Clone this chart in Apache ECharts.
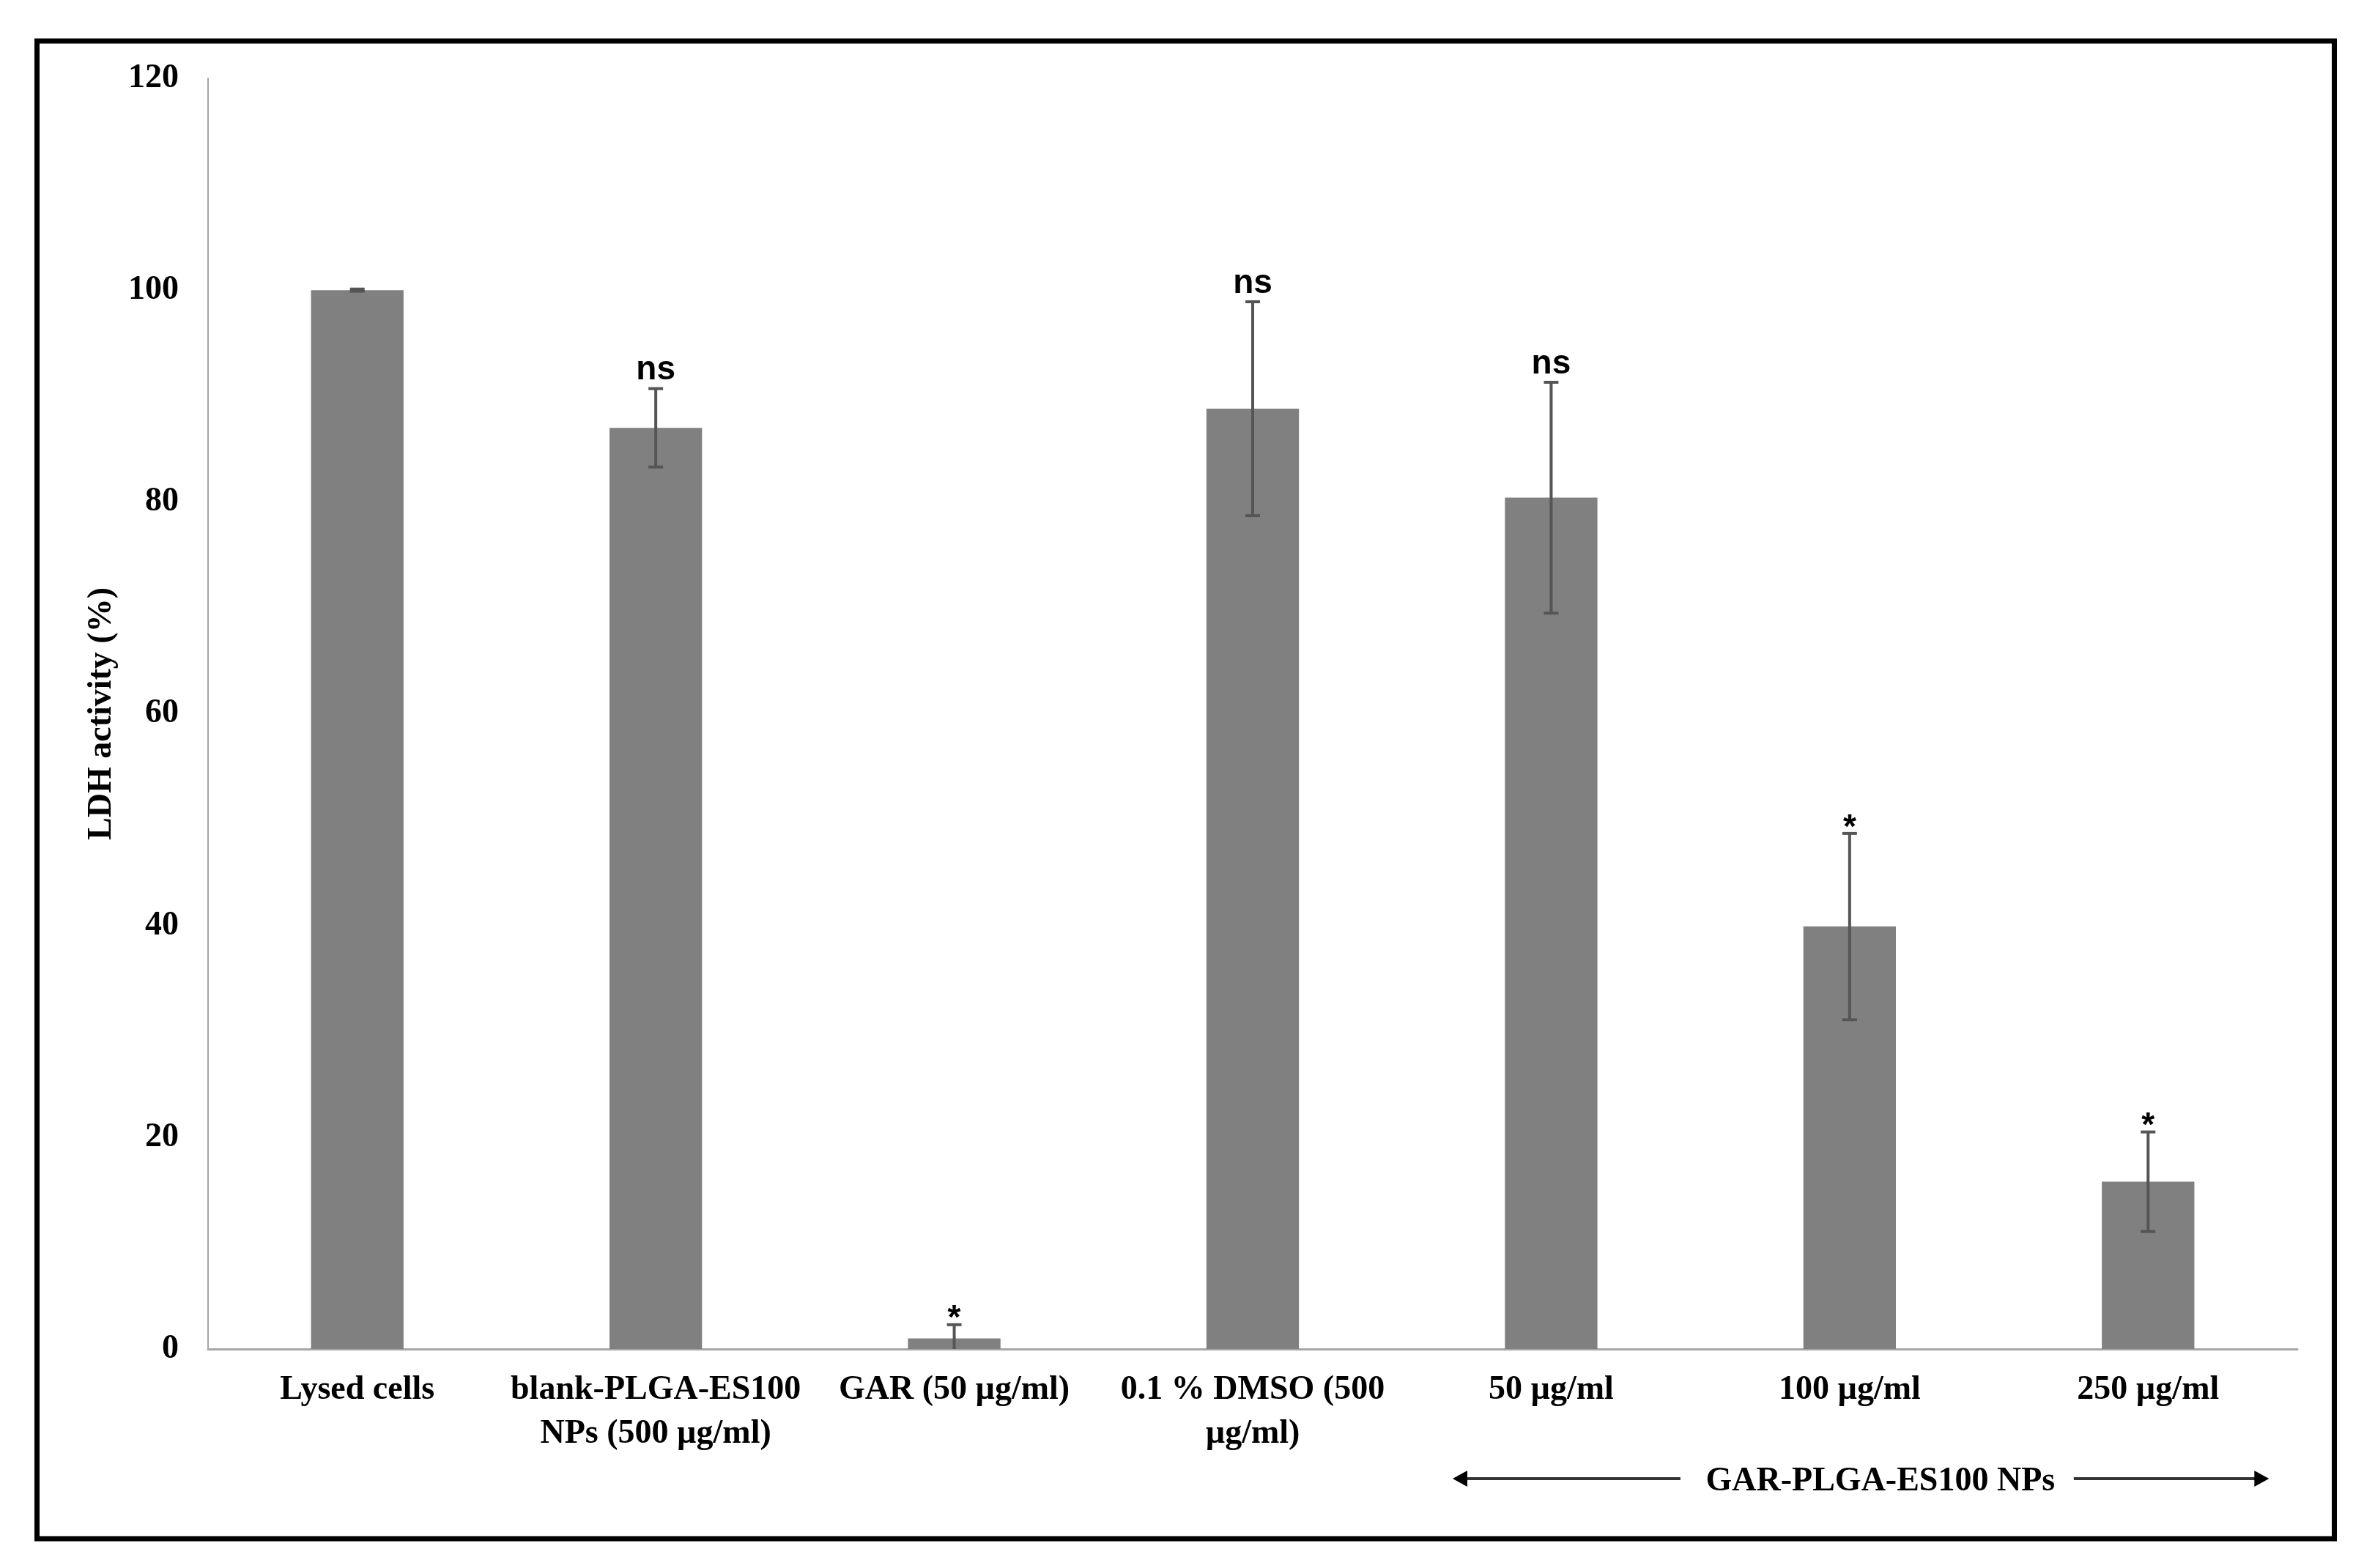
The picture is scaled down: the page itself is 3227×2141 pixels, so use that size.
<!DOCTYPE html>
<html><head><meta charset="utf-8">
<script src="https://cdn.jsdelivr.net/npm/echarts@6/dist/echarts.min.js"></script>
<style>html,body{margin:0;padding:0;background:#fff}#c{width:3227px;height:2141px}</style>
</head><body><div id="c"></div>
<script>
// ---- data ----
const categories = ['Lysed cells', 'blank-PLGA-ES100\nNPs (500 µg/ml)', 'GAR (50 µg/ml)', '0.1 % DMSO (500\nµg/ml)', '50 µg/ml', '100 µg/ml', '250 µg/ml'];
const ldhMeans = [100, 87.0, 1.0, 88.8, 80.4, 39.9, 15.8];
const ldhErrors = [0.1, 3.7, 1.3, 10.1, 10.9, 8.8, 4.7];
const sigLabels = ['', 'ns', '*', 'ns', 'ns', '*', '*'];
const yMin = 0, yMax = 120, yInterval = 20;
const yTitle = 'LDH activity (%)';
const groupLabel = 'GAR-PLGA-ES100 NPs';
const groupFirst = 4, groupLast = 6;

const SERIF = '"Liberation Serif", "Times New Roman", serif';
const SANS = '"Liberation Sans", Arial, sans-serif';
const chart = echarts.init(document.getElementById('c'), null, {renderer: 'canvas'});

chart.setOption({
  backgroundColor: '#ffffff',
  animation: false,
  grid: {left: 284, right: 91, top: 107, bottom: 299},
  xAxis: {
    type: 'category',
    data: categories,
    axisLine: {show: true, lineStyle: {color: '#a6a6a6', width: 3}},
    axisTick: {show: false},
    axisLabel: {interval: 0, margin: 26, fontFamily: SERIF, fontWeight: 'bold', fontSize: 46, lineHeight: 60, color: '#000'}
  },
  yAxis: {
    type: 'value', min: yMin, max: yMax, interval: yInterval,
    name: yTitle, nameLocation: 'middle', nameGap: 122, nameRotate: 90,
    nameTextStyle: {fontFamily: SERIF, fontWeight: 'bold', fontSize: 46, color: '#000'},
    axisLine: {show: true, lineStyle: {color: '#a6a6a6', width: 2}},
    axisTick: {show: false},
    splitLine: {show: false},
    axisLabel: {margin: 40, fontFamily: SERIF, fontWeight: 'bold', fontSize: 46, color: '#000'}
  },
  series: [
    {
      type: 'bar',
      data: ldhMeans,
      barWidth: '31%',
      itemStyle: {color: '#808080'},
      z: 2
    },
    {
      type: 'custom',
      z: 5,
      data: categories.map((c, i) => [i, ldhMeans[i], ldhErrors[i]]),
      renderItem: function (params, api) {
        const i = api.value(0), m = api.value(1), e = api.value(2);
        const top = api.coord([i, m + e]);
        const lowVal = m - e;
        const bot = api.coord([i, Math.max(lowVal, 0)]);
        const cap = 10;
        const st = {stroke: '#555555', lineWidth: 4};
        const children = [
          {type: 'line', shape: {x1: top[0], y1: top[1], x2: bot[0], y2: bot[1]}, style: st},
          {type: 'line', shape: {x1: top[0] - cap, y1: top[1], x2: top[0] + cap, y2: top[1]}, style: st}
        ];
        if (lowVal > 0) children.push({type: 'line', shape: {x1: bot[0] - cap, y1: bot[1], x2: bot[0] + cap, y2: bot[1]}, style: st});
        const lab = sigLabels[params.dataIndex];
        if (lab) {
          children.push({
            type: 'text', x: top[0], y: top[1] + (lab === '*' ? 16 : -2),
            style: {text: lab, font: 'bold 46px ' + SANS, fill: '#000', textAlign: 'center', textVerticalAlign: 'bottom'}
          });
        }
        return {type: 'group', children: children};
      }
    }
  ]
});

// ---- annotations: frame and group arrow ----
const pA = chart.convertToPixel({gridIndex: 0}, [groupFirst, 0]);
const pB = chart.convertToPixel({gridIndex: 0}, [groupLast, 0]);
const pM = chart.convertToPixel({gridIndex: 0}, [(groupFirst + groupLast) / 2, 0]);
const step = (pB[0] - pA[0]) / (groupLast - groupFirst);
const ay = pA[1] + 177;
const leftTip = pA[0] - 0.33 * step;
const rightTip = pB[0] + 0.405 * step;
const textCx = pM[0] + 42;
const halfText = 245;
const lineStyle = {stroke: '#333', lineWidth: 4};
chart.setOption({
  graphic: [
    {type: 'rect', shape: {x: 50.5, y: 56, width: 3136, height: 2045}, style: {fill: null, stroke: '#000', lineWidth: 7}, z: 100},
    {type: 'line', shape: {x1: leftTip + 14, y1: ay, x2: textCx - halfText - 28, y2: ay}, style: lineStyle},
    {type: 'polygon', shape: {points: [[leftTip, ay], [leftTip + 20, ay - 11], [leftTip + 20, ay + 11]]}, style: {fill: '#000'}},
    {type: 'line', shape: {x1: textCx + halfText + 19, y1: ay, x2: rightTip - 14, y2: ay}, style: lineStyle},
    {type: 'polygon', shape: {points: [[rightTip, ay], [rightTip - 20, ay - 11], [rightTip - 20, ay + 11]]}, style: {fill: '#000'}},
    {type: 'text', x: textCx, y: ay + 4, style: {text: groupLabel, font: 'bold 46px ' + SERIF, fill: '#000', textAlign: 'center', textVerticalAlign: 'middle'}}
  ]
});
</script></body></html>
